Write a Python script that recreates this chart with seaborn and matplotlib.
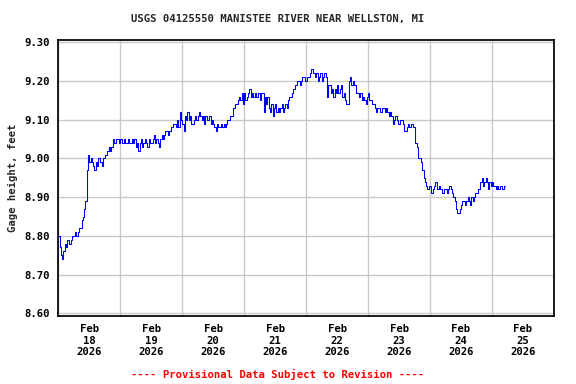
import pandas as pd
import seaborn as sns
import matplotlib.pyplot as plt
import matplotlib.dates as mdates

# half-hourly gage height readings (feet), starting Feb 18 2026 00:00
feb18 = [8.80, 8.77, 8.75, 8.74, 8.76, 8.78, 8.77, 8.79, 8.78, 8.78, 8.79, 8.80,
         8.80, 8.81, 8.80, 8.81, 8.82, 8.82, 8.84, 8.85, 8.87, 8.89, 8.97, 9.01,
         8.99, 9.00, 8.99, 8.98, 8.97, 8.99, 8.98, 9.00, 8.99, 8.99, 8.98, 9.00,
         9.01, 9.01, 9.02, 9.03, 9.02, 9.03, 9.05, 9.04, 9.04, 9.05, 9.05, 9.04]
feb19 = [9.05, 9.04, 9.04, 9.05, 9.04, 9.04, 9.05, 9.04, 9.04, 9.05, 9.04, 9.05,
         9.03, 9.04, 9.02, 9.04, 9.05, 9.03, 9.04, 9.05, 9.04, 9.03, 9.05, 9.04,
         9.04, 9.05, 9.06, 9.04, 9.05, 9.04, 9.03, 9.05, 9.06, 9.05, 9.06, 9.07,
         9.07, 9.06, 9.07, 9.08, 9.08, 9.09, 9.09, 9.08, 9.10, 9.08, 9.12, 9.10]
feb20 = [9.09, 9.07, 9.11, 9.10, 9.12, 9.10, 9.11, 9.09, 9.09, 9.10, 9.11, 9.10,
         9.11, 9.12, 9.11, 9.10, 9.11, 9.09, 9.11, 9.10, 9.10, 9.11, 9.09, 9.10,
         9.09, 9.08, 9.07, 9.09, 9.08, 9.08, 9.09, 9.08, 9.09, 9.08, 9.09, 9.10,
         9.10, 9.11, 9.11, 9.13, 9.13, 9.14, 9.14, 9.15, 9.16, 9.15, 9.17, 9.14]
feb21 = [9.17, 9.15, 9.16, 9.17, 9.18, 9.16, 9.17, 9.16, 9.17, 9.16, 9.16, 9.17,
         9.15, 9.17, 9.17, 9.12, 9.16, 9.14, 9.16, 9.13, 9.12, 9.14, 9.11, 9.13,
         9.14, 9.12, 9.13, 9.12, 9.13, 9.14, 9.12, 9.13, 9.14, 9.13, 9.15, 9.16,
         9.16, 9.17, 9.18, 9.19, 9.19, 9.20, 9.20, 9.19, 9.20, 9.21, 9.21, 9.20]
feb22 = [9.20, 9.21, 9.21, 9.22, 9.23, 9.22, 9.22, 9.21, 9.22, 9.20, 9.21, 9.22,
         9.20, 9.21, 9.22, 9.21, 9.16, 9.19, 9.19, 9.17, 9.18, 9.16, 9.18, 9.17,
         9.19, 9.17, 9.18, 9.19, 9.16, 9.17, 9.15, 9.14, 9.14, 9.20, 9.21, 9.19,
         9.20, 9.19, 9.19, 9.17, 9.17, 9.16, 9.17, 9.15, 9.16, 9.15, 9.14, 9.16]
feb23 = [9.17, 9.15, 9.15, 9.14, 9.14, 9.13, 9.12, 9.13, 9.13, 9.12, 9.12, 9.13,
         9.13, 9.12, 9.13, 9.12, 9.11, 9.12, 9.11, 9.09, 9.10, 9.11, 9.10, 9.09,
         9.09, 9.10, 9.10, 9.09, 9.07, 9.07, 9.08, 9.09, 9.08, 9.09, 9.09, 9.08,
         9.04, 9.04, 9.03, 9.00, 9.00, 8.99, 8.97, 8.95, 8.94, 8.93, 8.92, 8.93]
feb24 = [8.93, 8.91, 8.92, 8.93, 8.94, 8.92, 8.92, 8.93, 8.92, 8.91, 8.91, 8.92,
         8.92, 8.91, 8.92, 8.93, 8.92, 8.91, 8.90, 8.89, 8.87, 8.86, 8.86, 8.87,
         8.88, 8.89, 8.89, 8.88, 8.89, 8.90, 8.89, 8.88, 8.90, 8.89, 8.90, 8.91,
         8.91, 8.92, 8.92, 8.94, 8.95, 8.93, 8.94, 8.95, 8.94, 8.92, 8.94, 8.93]
feb25 = [8.94, 8.93, 8.93, 8.92, 8.93, 8.92, 8.93, 8.93, 8.92, 8.93, 8.93]

gage = feb18 + feb19 + feb20 + feb21 + feb22 + feb23 + feb24 + feb25
y_ticks = [8.60, 8.70, 8.80, 8.90, 9.00, 9.10, 9.20, 9.30]
title = "USGS 04125550 MANISTEE RIVER NEAR WELLSTON, MI"
footer = "---- Provisional Data Subject to Revision ----"

df = pd.DataFrame({
    "time": pd.date_range("2026-02-18 00:00", periods=len(gage), freq="30min"),
    "gage": gage,
})

sns.set_theme(style="white")
plt.rcParams["font.family"] = ["DejaVu Sans Mono"]
plt.rcParams["font.weight"] = "bold"

fig = plt.figure(figsize=(6, 4), dpi=96)
ax = fig.add_axes([0.1012, 0.1771, 0.8606, 0.7187])
sns.lineplot(data=df, x="time", y="gage", ax=ax, color="#0000ff",
             linewidth=0.8, drawstyle="steps-post", estimator=None)

ax.set_xlim(pd.Timestamp("2026-02-18"), pd.Timestamp("2026-02-26"))
ax.set_ylim(8.593, 9.306)
ax.set_yticks(y_ticks)
ax.set_yticklabels([f"{v:.2f}" for v in y_ticks])

# labels at noon, grid at midnight
ax.xaxis.set_major_locator(mdates.HourLocator(byhour=[12]))
ax.xaxis.set_major_formatter(mdates.DateFormatter("%b\n%d\n%Y"))
ax.xaxis.set_minor_locator(mdates.DayLocator())
ax.grid(False)
ax.grid(True, which="minor", axis="x", color="#c8c8c8", linewidth=1)
ax.grid(True, which="major", axis="y", color="#c8c8c8", linewidth=1)
ax.set_axisbelow(True)
ax.tick_params(axis="both", which="both", length=0, labelsize=8, colors="black")
ax.tick_params(axis="y", pad=6)
ax.tick_params(axis="x", pad=6)
for lbl in ax.get_xticklabels() + ax.get_yticklabels():
    lbl.set_fontweight("bold")
for s in ax.spines.values():
    s.set_color("black")
    s.set_linewidth(1.3)

ax.set_xlabel("")
ax.set_ylabel("Gage height, feet", fontsize=8, fontweight="bold", labelpad=5)
fig.text(0.482, 0.951, title, ha="center", va="center", fontsize=8,
         fontweight="bold")
fig.text(0.482, 0.025, footer, ha="center", va="center", fontsize=8,
         fontweight="bold", color="red")

fig.savefig("out.png", dpi=96, facecolor="white")
